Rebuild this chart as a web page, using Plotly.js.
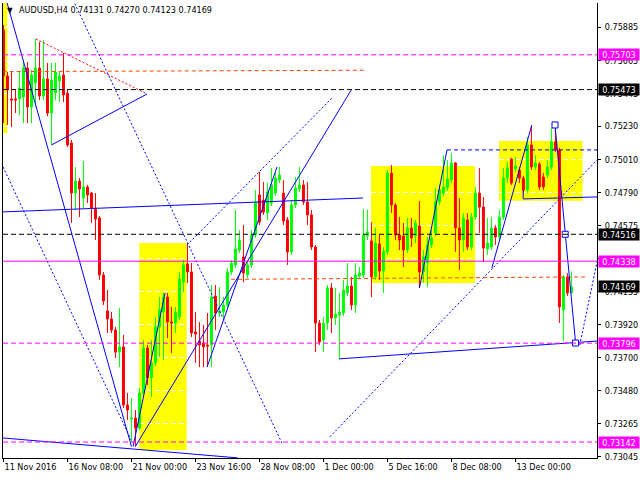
<!DOCTYPE html>
<html><head><meta charset="utf-8">
<script src="https://cdn.plot.ly/plotly-3.0.1.min.js"></script>
<style>html,body{margin:0;padding:0;background:#fff}#chart{width:640px;height:480px}</style>
</head><body><div id="chart"></div>
<script>
// ---- candle data (AUDUSD H4), bar index 0 = 11 Nov 2016 16:00 ----
const openP = [0.75867,0.75563,0.75411,0.75411,0.75411,0.75424,0.75616,0.75358,0.75517,0.75616,
0.75431,0.75543,0.75318,0.75450,0.75530,0.75570,0.75450,0.75120,0.74789,0.74868,
0.74756,0.74829,0.74789,0.74690,0.74624,0.74247,0.74009,0.73956,0.73883,0.73737,
0.73771,0.73387,0.73294,0.73301,0.73235,0.73466,0.73764,0.73566,0.73665,0.73903,
0.74002,0.74101,0.73936,0.73929,0.73969,0.74200,0.74320,0.74267,0.73870,0.73810,
0.73797,0.73784,0.73784,0.74108,0.73995,0.74002,0.74048,0.74267,0.74313,0.74412,
0.74366,0.74247,0.74313,0.74511,0.74776,0.74743,0.74657,0.74723,0.74789,0.74875,
0.74789,0.74611,0.74399,0.74710,0.74816,0.74842,0.74730,0.74644,0.74432,0.73929,
0.73817,0.73929,0.74161,0.73962,0.73982,0.73995,0.74128,0.74174,0.74048,0.74240,
0.74247,0.74505,0.74472,0.74234,0.74452,0.74273,0.74399,0.74921,0.74710,0.74511,
0.74505,0.74412,0.74558,0.74505,0.74571,0.74267,0.74326,0.74445,0.74525,0.74730,
0.74789,0.74822,0.74875,0.74988,0.74558,0.74478,0.74611,0.74432,0.74630,0.74789,
0.74696,0.74419,0.74432,0.74558,0.74498,0.74630,0.74888,0.75014,0.74948,0.74941,
0.74888,0.74809,0.75107,0.74961,0.74981,0.74895,0.74908,0.74961,0.75126,0.75073,
0.74015,0.74234,0.74131];
const highP = [0.75900,0.75589,0.75589,0.75470,0.75589,0.75655,0.75655,0.75603,0.75808,0.75788,
0.75801,0.75649,0.75649,0.75649,0.75589,0.75715,0.75470,0.75140,0.74961,0.74888,
0.75001,0.74842,0.74796,0.74789,0.74637,0.74267,0.74148,0.74002,0.73903,0.74028,
0.73850,0.73466,0.73433,0.73354,0.73499,0.73817,0.73784,0.73817,0.73969,0.74101,
0.74128,0.74128,0.74035,0.74035,0.74267,0.74346,0.74458,0.74326,0.74002,0.73936,
0.73916,0.73995,0.74181,0.74181,0.74167,0.74101,0.74293,0.74346,0.74677,0.74544,
0.74577,0.74346,0.74544,0.74809,0.74928,0.74862,0.74855,0.74954,0.74921,0.74961,
0.74875,0.74630,0.74743,0.74895,0.74961,0.74875,0.74862,0.74677,0.74445,0.73949,
0.73969,0.74181,0.74194,0.74161,0.74128,0.74214,0.74326,0.74234,0.74326,0.74300,
0.74683,0.74677,0.74597,0.74558,0.74511,0.74432,0.74941,0.74974,0.74723,0.74630,
0.74591,0.74624,0.74624,0.74611,0.74736,0.74412,0.74498,0.74544,0.74822,0.74842,
0.75040,0.75007,0.75054,0.74994,0.74756,0.74657,0.74657,0.74657,0.74829,0.74954,
0.74763,0.74624,0.74630,0.74577,0.74677,0.74954,0.74994,0.75021,0.75027,0.74961,
0.74902,0.75159,0.75226,0.75040,0.74994,0.74921,0.75007,0.75219,0.75239,0.75087,
0.74247,0.74260,0.74270];
const lowP = [0.75252,0.75239,0.75226,0.75318,0.75305,0.75252,0.75252,0.75252,0.75358,0.75404,
0.75404,0.75298,0.75107,0.75404,0.75391,0.75391,0.75093,0.74591,0.74677,0.74630,
0.74690,0.74723,0.74591,0.74478,0.74214,0.74048,0.73863,0.73863,0.73698,0.73638,
0.73367,0.73288,0.73142,0.73116,0.73222,0.73453,0.73519,0.73440,0.73645,0.73704,
0.73685,0.73830,0.73731,0.73863,0.73949,0.74134,0.74194,0.73837,0.73665,0.73638,
0.73638,0.73638,0.73638,0.73883,0.73969,0.73962,0.74028,0.74247,0.74293,0.74392,
0.74200,0.74227,0.74293,0.74491,0.74577,0.74644,0.74611,0.74703,0.74769,0.74855,
0.74577,0.74313,0.74379,0.74690,0.74796,0.74710,0.74577,0.74412,0.73737,0.73784,
0.73737,0.73883,0.73863,0.73916,0.73691,0.73976,0.74108,0.74015,0.73995,0.74220,
0.74227,0.74478,0.74101,0.74214,0.74214,0.74128,0.74379,0.74657,0.74478,0.74412,
0.74300,0.74392,0.74432,0.74458,0.74161,0.74194,0.74167,0.74425,0.74505,0.74710,
0.74769,0.74802,0.74855,0.74399,0.74280,0.74399,0.74412,0.74412,0.74611,0.74525,
0.74333,0.74379,0.74412,0.74445,0.74478,0.74611,0.74855,0.74842,0.74928,0.74855,
0.74789,0.74789,0.74941,0.74941,0.74809,0.74809,0.74888,0.74941,0.75060,0.73929,
0.73810,0.74108,0.74123];
const closeP = [0.75563,0.75470,0.75404,0.75404,0.75484,0.75616,0.75358,0.75570,0.75616,0.75431,
0.75543,0.75318,0.75536,0.75589,0.75563,0.75437,0.75107,0.74789,0.74868,0.74816,
0.74829,0.74776,0.74690,0.74617,0.74247,0.74075,0.73956,0.73883,0.73737,0.73771,
0.73387,0.73354,0.73301,0.73235,0.73466,0.73764,0.73566,0.73665,0.73903,0.74015,
0.74101,0.73936,0.73929,0.74002,0.74220,0.74313,0.74267,0.73863,0.73857,0.73784,
0.73771,0.73777,0.74101,0.73995,0.74009,0.74048,0.74267,0.74326,0.74419,0.74478,
0.74260,0.74313,0.74511,0.74730,0.74597,0.74663,0.74796,0.74842,0.74888,0.74908,
0.74604,0.74399,0.74710,0.74822,0.74842,0.74730,0.74644,0.74432,0.73929,0.73804,
0.73929,0.74161,0.73962,0.73989,0.74002,0.74148,0.74174,0.74048,0.74247,0.74260,
0.74511,0.74531,0.74234,0.74458,0.74273,0.74405,0.74921,0.74710,0.74511,0.74478,
0.74412,0.74558,0.74491,0.74591,0.74267,0.74366,0.74445,0.74491,0.74730,0.74809,
0.74829,0.74882,0.74988,0.74558,0.74478,0.74624,0.74432,0.74630,0.74789,0.74696,
0.74425,0.74458,0.74558,0.74498,0.74630,0.74888,0.74954,0.74855,0.74968,0.74888,
0.74809,0.75107,0.74961,0.74988,0.74829,0.74829,0.74961,0.75126,0.75073,0.74035,
0.74234,0.74128,0.74169];

// ---- axis labels ----
const timeTickBars = [0,16,32,48,64,80,96,112,128];
const timeTickText = ['11 Nov 2016','16 Nov 08:00','21 Nov 00:00','23 Nov 16:00','28 Nov 08:00','1 Dec 00:00','5 Dec 16:00','8 Dec 08:00','13 Dec 00:00'];
const priceTicks = [0.75885,0.75665,0.75445,0.75230,0.75010,0.74790,0.74575,0.74355,0.74135,0.73920,0.73700,0.73480,0.73265,0.73045];
const hiddenPriceTicks = [0.74355]; // fully covered by a price tag in the reference

// ---- horizontal levels & price tags ----
const levelPrices = [0.75703,0.75473,0.74516,0.74338,0.73796,0.73142];
const levelColors = ['#FF00FF','#000000','#000000','#FF00FF','#FF00FF','#FF00FF'];
const levelDashes = ['5px,3px','5px,3px','5px,3px','solid','5px,3px','5px,3px'];
const bidPrice = 0.74169;
const tagPrices = [0.75703,0.75473,0.74516,0.74338,0.74169,0.73796,0.73142];
const tagColors = ['#FF00FF','#000000','#000000','#FF00FF','#000000','#FF00FF','#FF00FF'];

// ---- yellow zones (bar from, bar to, price top, price bottom) ----
const zoneBarFrom = [-4,33.95,91.9,123.9];
const zoneBarTo = [0.95,45.8,117.9,144.8];
const zoneTop = [0.76100,0.74458,0.74967,0.75133];
const zoneBottom = [0.75186,0.73090,0.74194,0.74738];

// ---- drawn lines (bar index, price) ----
const solidBars = [[0.9,32],[12,35.9],[-0.2,89.9],[-0.2,58.6],[32.4,40.4],[32.9,87.1],[50.9,68.4],[83.9,148.4],[104,110.9],[122.1,132.1],[129.95,129.95,148.4],[137.9,143.05]];
const solidPrices = [[0.76046,0.73112],[0.75107,0.75444],[0.74664,0.74756],[0.73169,0.73037],[0.73112,0.74128],[0.73110,0.75477],[0.73638,0.74961],[0.73692,0.73810],[0.74161,0.75074],[0.74293,0.75239],[0.74809,0.74750,0.74763],[0.75239,0.73797]];
const dotBars = [[17.4,69.6],[-0.1,31.9],[45.9,82.4],[81.6,148.4],[144.1,148.4]];
const dotPrices = [[0.76066,0.73136],[0.74961,0.73156],[0.74445,0.75424],[0.73176,0.75007],[0.73784,0.74333]];
const dashBars = [110.9,148.4];
const dashPrices = [0.75074,0.75074];
const redDotBars = [8.1,35.9];
const redDotPrices = [0.75808,0.75444];
const orangeBars = [[-0.2,90.6],[56.9,146.1]];
const orangePrices = [[0.75592,0.75601],[0.74218,0.74234]];
const markerBars = [137.9,140.45,143.05];
const markerPrices = [0.75239,0.74516,0.73797];

const FONT = 'DejaVu Sans Condensed, DejaVu Sans, Liberation Sans, sans-serif';
const BLUE = '#0000FF';
const barIdx = openP.map((_, i) => i);

function joinSegs(xs, ys) {
  const X = [], Y = [];
  xs.forEach((seg, k) => { X.push(...seg, null); Y.push(...ys[k], null); });
  return [X, Y];
}
const [sX, sY] = joinSegs(solidBars, solidPrices);
const [dX, dY] = joinSegs(dotBars, dotPrices);
const [oX, oY] = joinSegs(orangeBars, orangePrices);

const traces = [
  {type:'candlestick', x: barIdx, open: openP, high: highP, low: lowP, close: closeP,
   increasing:{line:{color:'#00FF00', width:1}, fillcolor:'#00FF00'},
   decreasing:{line:{color:'#FF0000', width:1}, fillcolor:'#FF0000'},
   whiskerwidth:0, hoverinfo:'skip', showlegend:false},
  {type:'scatter', mode:'lines', x:oX, y:oY, line:{color:'#FF4500', width:1, dash:'4px,3px'}, hoverinfo:'skip', showlegend:false},
  {type:'scatter', mode:'lines', x:redDotBars, y:redDotPrices, line:{color:'#FF0000', width:1, dash:'2px,2px'}, hoverinfo:'skip', showlegend:false},
  {type:'scatter', mode:'lines', x:dX, y:dY, line:{color:BLUE, width:1, dash:'2px,2px'}, hoverinfo:'skip', showlegend:false},
  {type:'scatter', mode:'lines', x:dashBars, y:dashPrices, line:{color:BLUE, width:1, dash:'4px,3px'}, hoverinfo:'skip', showlegend:false},
  {type:'scatter', mode:'lines', x:sX, y:sY, line:{color:BLUE, width:1}, hoverinfo:'skip', showlegend:false},
  {type:'scatter', mode:'markers', x:markerBars, y:markerPrices, marker:{symbol:'square', size:6, color:'#FFFFFF', line:{color:BLUE, width:1}}, hoverinfo:'skip', showlegend:false, cliponaxis:false}
];

const shapes = [];
zoneBarFrom.forEach((b, i) => shapes.push({type:'rect', xref:'x', yref:'y', x0:b, x1:zoneBarTo[i], y0:zoneBottom[i], y1:zoneTop[i], fillcolor:'#FFFF00', line:{width:0}, layer:'below'}));
shapes.push({type:'line', xref:'paper', yref:'y', x0:0, x1:1, y0:bidPrice, y1:bidPrice, line:{color:'#FFFFFF', width:1}, layer:'between'});
levelPrices.forEach((p, i) => shapes.push({type:'line', xref:'paper', yref:'y', x0:0, x1:1, y0:p, y1:p, line:{color:levelColors[i], width:1, dash:levelDashes[i]}, layer:'above'}));

const annotations = tagPrices.map((p, i) => ({
  xref:'paper', yref:'y', x:1, y:p, xanchor:'left', yanchor:'middle', xshift:1,
  text: p.toFixed(5), showarrow:false, bgcolor: tagColors[i], width:40, height:11, borderpad:0,
  align:'center', font:{family:FONT, size:9, color:'#FFFFFF'}
}));
annotations.push({xref:'paper', yref:'paper', x:0, y:1, xanchor:'center', yanchor:'middle', xshift:7, yshift:-7,
  text:'▼', showarrow:false, font:{family:FONT, size:8, color:'#000000'}});

const n = openP.length - 1;
const layout = {
  width:640, height:480,
  margin:{l:3, r:43, t:3, b:22, pad:0},
  paper_bgcolor:'#FFFFFF', plot_bgcolor:'#FFFFFF',
  showlegend:false,
  title:{text:`AUDUSD,H4 ${openP[n].toFixed(5)} ${highP[n].toFixed(5)} ${lowP[n].toFixed(5)} ${closeP[n].toFixed(5)}`,
         xref:'container', yref:'container', x:19/640, xanchor:'left', y:1-10/480, yanchor:'middle',
         font:{family:FONT, size:9, color:'#000000'}},
  xaxis:{range:[-0.125,148.4], showgrid:false, zeroline:false, showline:true, linecolor:'#000000', linewidth:1,
         ticks:'outside', ticklen:3, tickcolor:'#000000', tickvals:timeTickBars, ticktext:timeTickText,
         ticklabelposition:'outside right', tickfont:{family:FONT, size:9, color:'#000000'},
         rangeslider:{visible:false}, fixedrange:true},
  yaxis:{range:[0.730364,0.760457], side:'right', showgrid:true, gridcolor:'#FFFFFF', griddash:'5px,3px', gridwidth:1,
         zeroline:false, showline:true, mirror:true, linecolor:'#000000', linewidth:1,
         ticks:'outside', ticklen:3, tickcolor:'#000000', tickvals:priceTicks,
         ticktext:priceTicks.map(v => hiddenPriceTicks.includes(v) ? '' : v.toFixed(5)),
         tickfont:{family:FONT, size:9, color:'#000000'}, ticklabelstandoff:2, fixedrange:true},
  shapes, annotations
};
Plotly.newPlot('chart', traces, layout, {staticPlot:true, displayModeBar:false});
</script></body></html>
